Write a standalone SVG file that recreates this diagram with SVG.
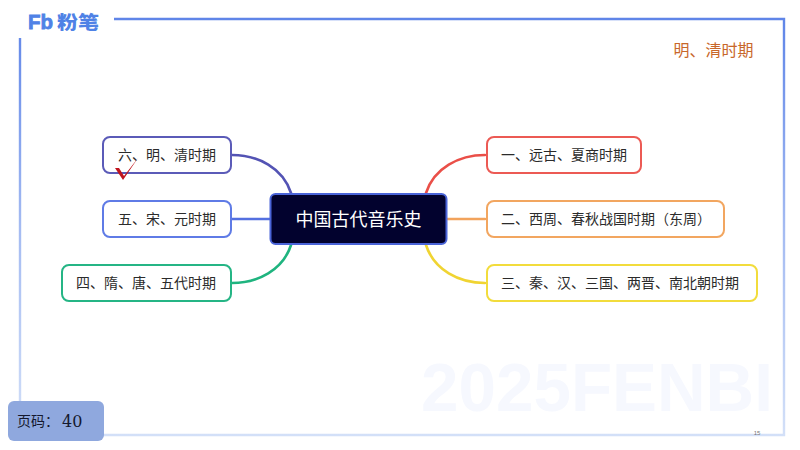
<svg xmlns="http://www.w3.org/2000/svg" width="800" height="450" viewBox="0 0 800 450">
<style>
text{font-family:"Noto Sans CJK SC","Liberation Serif",sans-serif}
.n{fill:#fff;stroke-width:2}
.l{font-size:14px;fill:#2b2b2b;text-anchor:middle;dominant-baseline:central}
.c{fill:none;stroke-width:2.6;stroke-linecap:round}
</style>
<defs>
<linearGradient id="fr" gradientUnits="userSpaceOnUse" x1="0" y1="18" x2="0" y2="436">
<stop offset="0" stop-color="#5f85e8"/><stop offset="0.5" stop-color="#a4bbf2"/><stop offset="1" stop-color="#d3e0f8"/>
</linearGradient>
</defs>
<rect width="800" height="450" fill="#fff"/>
<g id="frame">
<path d="M114 19H784V435H20V38" fill="none" stroke="url(#fr)" stroke-width="2.400"/>
</g>
<g id="logo">
<text x="28" y="29" font-size="21" font-weight="700" fill="#4f82e6" stroke="#4f82e6" stroke-width="0.800" textLength="25" lengthAdjust="spacingAndGlyphs" style="font-family:'Liberation Sans',sans-serif">Fb</text>
<text x="57" y="29" font-size="18" font-weight="900" fill="#4f82e6" textLength="42" lengthAdjust="spacingAndGlyphs">粉笔</text>
</g>
<text id="watermark" x="421" y="411" font-size="68" font-weight="700" fill="#f6f8fe" textLength="352" lengthAdjust="spacingAndGlyphs" style="font-family:'Liberation Sans',sans-serif">2025FENBI</text>
<text id="slide-no" x="757" y="435" font-size="6" fill="#777" text-anchor="middle" style="font-family:'Liberation Sans',sans-serif">15</text>
<text id="title" x="713.500" y="49" font-size="16" fill="#c8672a" text-anchor="middle" dominant-baseline="central">明、清时期</text>
<g id="connectors">
<path class="c" stroke="#5353b4" d="M232 155C258 155 283 168 291 193"/>
<path class="c" stroke="#5470e0" d="M232 219H270"/>
<path class="c" stroke="#1fb47f" d="M232 283C258 283 283 270 291 245"/>
<path class="c" stroke="#ea4f48" d="M485 155C459 155 434 168 426 193"/>
<path class="c" stroke="#f2a35c" d="M447 219H485"/>
<path class="c" stroke="#f0d432" d="M485 283C459 283 434 270 426 245"/>
</g>
<g id="root">
<rect x="270.500" y="194" width="176" height="50" rx="5" fill="#02022e" stroke="#4a64d8" stroke-width="2"/>
<text x="358.500" y="218" font-size="18" fill="#fff" text-anchor="middle" dominant-baseline="central">中国古代音乐史</text>
</g>
<g id="n6"><rect class="n" x="103" y="137" width="128" height="36" rx="7" stroke="#5b5bb8"/><text class="l" x="167" y="154">六、明、清时期</text></g>
<g id="n5"><rect class="n" x="103" y="201" width="128" height="36" rx="7" stroke="#5f7be6"/><text class="l" x="167" y="218">五、宋、元时期</text></g>
<g id="n4"><rect class="n" x="62" y="265" width="169" height="36" rx="7" stroke="#25b585"/><text class="l" x="146" y="282">四、隋、唐、五代时期</text></g>
<g id="n1"><rect class="n" x="487" y="137" width="154" height="36" rx="7" stroke="#ec5a54"/><text class="l" x="564" y="154">一、远古、夏商时期</text></g>
<g id="n2"><rect class="n" x="487" y="201" width="237" height="36" rx="7" stroke="#f2a660"/><text class="l" x="606" y="218">二、西周、春秋战国时期（东周）</text></g>
<g id="n3"><rect class="n" x="487" y="265" width="270" height="36" rx="7" stroke="#f2dc3c"/><text class="l" x="620" y="282">三、秦、汉、三国、两晋、南北朝时期</text></g>
<path id="check" d="M115 168L119 168L124 176L138 158L123 180Z" fill="#c0141e"/>
<g id="page">
<rect x="8" y="401" width="96" height="40" rx="6" fill="#8fa8de"/>
<text x="17" y="420" font-size="14" fill="#15192e" dominant-baseline="central">页码：</text>
<text x="62" y="421" font-size="16" fill="#15192e" dominant-baseline="central" style="font-family:'DejaVu Serif',serif">40</text>
</g>
</svg>
